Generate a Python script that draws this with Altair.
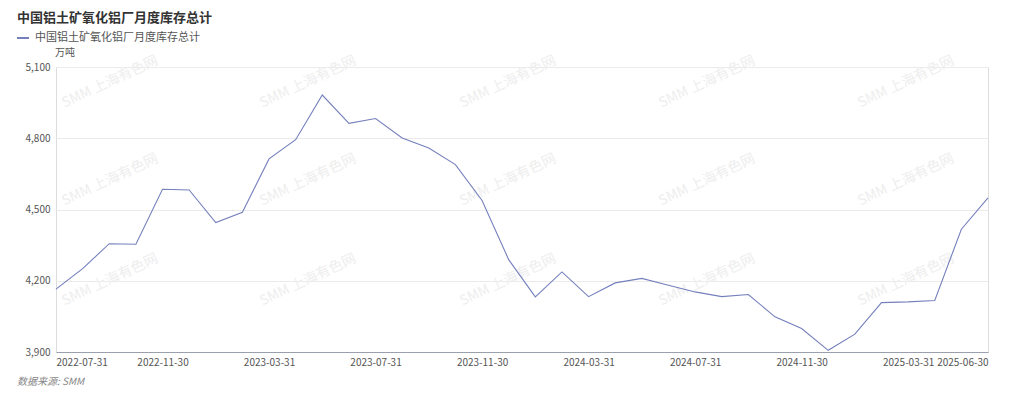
import altair as alt
import pandas as pd

title_text = "中国铝土矿氧化铝厂月度库存总计"
unit_text = "万吨"
source_text = "数据来源: SMM"

dates = [
    "2022-07-31", "2022-08-31", "2022-09-30", "2022-10-31", "2022-11-30", "2022-12-31",
    "2023-01-31", "2023-02-28", "2023-03-31", "2023-04-30", "2023-05-31", "2023-06-30",
    "2023-07-31", "2023-08-31", "2023-09-30", "2023-10-31", "2023-11-30", "2023-12-31",
    "2024-01-31", "2024-02-29", "2024-03-31", "2024-04-30", "2024-05-31", "2024-06-30",
    "2024-07-31", "2024-08-31", "2024-09-30", "2024-10-31", "2024-11-30", "2024-12-31",
    "2025-01-31", "2025-02-28", "2025-03-31", "2025-04-30", "2025-05-31", "2025-06-30",
]
values = [
    4165, 4251, 4356, 4354, 4585, 4582, 4445, 4488, 4713, 4794, 4982, 4863,
    4883, 4801, 4759, 4689, 4538, 4289, 4132, 4237, 4133, 4191, 4210, 4181,
    4153, 4133, 4142, 4048, 3999, 3907, 3975, 4108, 4111, 4117, 4417, 4549,
]
tick_dates = ["2022-07-31", "2022-11-30", "2023-03-31", "2023-07-31", "2023-11-30",
              "2024-03-31", "2024-07-31", "2024-11-30", "2025-03-31", "2025-06-30"]
y_ticks = [3900, 4200, 4500, 4800, 5100]

W, H = 932, 285
line_color = "#7580bd"

df = pd.DataFrame({"date": dates, "value": values})

# watermark grid (decorative)
wm_x = [54, 252, 452, 651, 850]
wm_y = [15, 113, 213]
wm = pd.DataFrame([{"wx": x, "wy": y, "t": "SMM 上海有色网"} for x in wm_x for y in wm_y])

watermark = alt.Chart(wm).mark_text(
    fontSize=14, color="#eeeeee", angle=335, font="Noto Sans CJK SC"
).encode(
    x=alt.X("wx:Q", scale=None), y=alt.Y("wy:Q", scale=None), text="t:N"
)

line = alt.Chart(df).mark_line(color=line_color, strokeWidth=1.1).encode(
    x=alt.X("date:O", sort=None, title=None,
            scale=alt.Scale(type="point", padding=0),
            axis=alt.Axis(values=tick_dates, labelAngle=0, labelFlush=True,
                          ticks=False, domainColor="#9aa0ae", labelColor="#555555",
                          labelFontSize=10, labelPadding=5, grid=False)),
    y=alt.Y("value:Q", title=None,
            scale=alt.Scale(domain=[3900, 5100], nice=False, zero=False),
            axis=alt.Axis(values=y_ticks, labelExpr="format(datum.value, ',.0f')",
                          ticks=False, domain=False,
                          gridColor="#ebebeb", labelColor="#555555",
                          labelFontSize=10, labelPadding=6)),
)

title = alt.Chart(pd.DataFrame({"t": [title_text]})).mark_text(
    align="left", baseline="middle", fontSize=13, fontWeight="bold", color="#333333"
).encode(x=alt.value(-39), y=alt.value(-49), text="t:N")

legend_line = alt.Chart(pd.DataFrame({"a": [0]})).mark_rule(
    color=line_color, strokeWidth=2
).encode(x=alt.value(-39), x2=alt.value(-27), y=alt.value(-29))

legend_text = alt.Chart(pd.DataFrame({"t": [title_text]})).mark_text(
    align="left", baseline="middle", fontSize=11, color="#555555"
).encode(x=alt.value(-21), y=alt.value(-29), text="t:N")

unit = alt.Chart(pd.DataFrame({"t": [unit_text]})).mark_text(
    align="left", baseline="middle", fontSize=10, color="#555555"
).encode(x=alt.value(-1), y=alt.value(-14), text="t:N")

source = alt.Chart(pd.DataFrame({"t": [source_text]})).mark_text(
    align="left", baseline="middle", fontSize=10, fontStyle="italic", color="#888888"
).encode(x=alt.value(-39), y=alt.value(315), text="t:N")

chart = alt.layer(watermark, line, title, legend_line, legend_text, unit, source).properties(
    width=W, height=H,
    autosize=alt.AutoSizeParams(type="none"),
    padding={"left": 48, "top": 59, "right": 20, "bottom": 39},
).configure_view(stroke=None).configure(
    font="Noto Sans CJK SC"
)

chart.save("out.html", embed_options={"renderer": "svg", "actions": False})
